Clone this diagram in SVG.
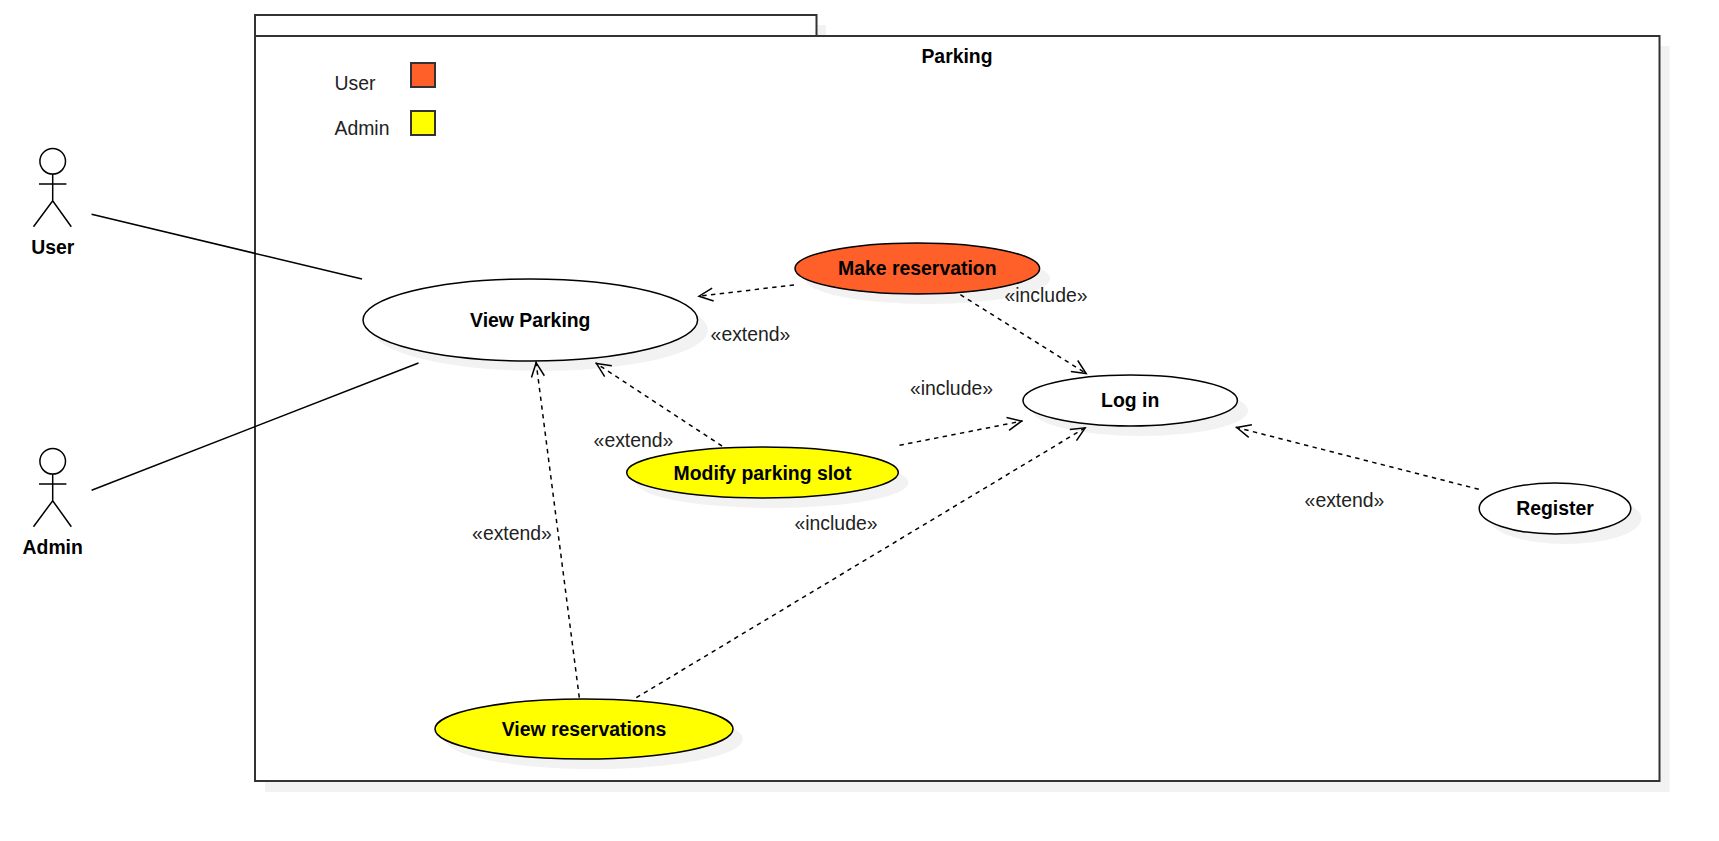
<svg xmlns="http://www.w3.org/2000/svg" width="1719" height="841" viewBox="0 0 1719 841">
<style>
text{font-family:"Liberation Sans",Arial,sans-serif;font-size:19.4px;fill:#000}
.b{font-weight:bold;text-anchor:middle}
.l{text-anchor:middle;fill:#222}
.s{text-anchor:start}
.pk{fill:#fff;stroke:#333;stroke-width:2}
.sh{fill:#f2f2f2;stroke:none}
.uc{stroke:#000;stroke-width:1.5}
.sw{stroke:#000;stroke-width:1.5;fill:none}
.lg{stroke:#333;stroke-width:2}
.a{stroke:#000;stroke-width:1.5;fill:none}
.d{stroke:#000;stroke-width:1.5;fill:none;stroke-dasharray:4.4 4.4;marker-end:url(#o)}
</style>
<defs><marker id="o" markerUnits="userSpaceOnUse" markerWidth="20" markerHeight="16" viewBox="-18 -8 20 16" refX="0" refY="0" orient="auto"><path d="M-15,-6.5 L-1,0 L-15,6.5" fill="none" stroke="#000" stroke-width="1.5"/></marker></defs>
<rect width="1719" height="841" fill="#fff"/>
<g id="package">
<rect class="sh" x="265" y="25" width="561" height="30"/>
<rect class="sh" x="265" y="46" width="1404.500" height="746"/>
<rect class="pk" x="255" y="15" width="561.500" height="21"/>
<rect class="pk" x="255" y="36" width="1404.500" height="745"/>
<text class="b" x="957" y="63">Parking</text>
</g>
<g id="legend">
<text class="l s" x="334.500" y="90">User</text>
<rect class="lg" x="411" y="63" width="24" height="24" fill="#ff5f29"/>
<text class="l s" x="334.500" y="134.500">Admin</text>
<rect class="lg" x="411" y="111" width="24" height="24" fill="#ffff00"/>
</g>
<g id="actor-user">
<circle class="sw" cx="52.700" cy="161.300" r="12.800"/>
<path class="a" d="M52.700 174V200.700M39 184H66.400M33.500 226.700L52.700 200.700L71.300 226.700"/>
<text class="b" x="52.700" y="254">User</text>
</g>
<g id="actor-admin">
<circle class="sw" cx="52.700" cy="461.300" r="12.800"/>
<path class="a" d="M52.700 474V500.700M39 484H66.400M33.500 526.700L52.700 500.700L71.300 526.700"/>
<text class="b" x="52.700" y="554">Admin</text>
</g>
<g id="view-parking">
<ellipse class="sh" cx="540.500" cy="330" rx="167.500" ry="41"/>
<ellipse class="uc" cx="530.300" cy="320" rx="167.300" ry="41" fill="#fff"/>
<text class="b" x="530.300" y="327">View Parking</text>
</g>
<g id="make-reservation">
<ellipse class="sh" cx="927.500" cy="278.500" rx="122.500" ry="25.500"/>
<ellipse class="uc" cx="917.300" cy="268.500" rx="122.300" ry="25.500" fill="#ff5f29"/>
<text class="b" x="917.300" y="274.800">Make reservation</text>
</g>
<g id="log-in">
<ellipse class="sh" cx="1140.500" cy="410.500" rx="107.500" ry="25.500"/>
<ellipse class="uc" cx="1130.200" cy="400.500" rx="107.200" ry="25.500" fill="#fff"/>
<text class="b" x="1130.200" y="406.800">Log in</text>
</g>
<g id="modify-parking-slot">
<ellipse class="sh" cx="772.500" cy="482.500" rx="136" ry="25.500"/>
<ellipse class="uc" cx="762.500" cy="472.500" rx="135.800" ry="25.500" fill="#ffff00"/>
<text class="b" x="762.500" y="479.500">Modify parking slot</text>
</g>
<g id="view-reservations">
<ellipse class="sh" cx="594" cy="739" rx="149" ry="30"/>
<ellipse class="uc" cx="584" cy="729" rx="149" ry="30" fill="#ffff00"/>
<text class="b" x="584" y="736">View reservations</text>
</g>
<g id="register">
<ellipse class="sh" cx="1565.500" cy="518.500" rx="76" ry="25.500"/>
<ellipse class="uc" cx="1555" cy="508.500" rx="75.800" ry="25.500" fill="#fff"/>
<text class="b" x="1555" y="514.800">Register</text>
</g>
<g id="connectors">
<path class="a" d="M91.600 214.300L362 279"/>
<path class="a" d="M91.600 490.300L418.500 363"/>
<path class="d" d="M794 285L698 296.300"/>
<path class="d" d="M722 446L595.700 363"/>
<path class="d" d="M579.300 697.700L536 361.700"/>
<path class="d" d="M636.300 697.700L1086 427.300"/>
<path class="d" d="M960.400 294.700L1087 374"/>
<path class="d" d="M899.500 445.300L1022.500 421"/>
<path class="d" d="M1478.800 489.300L1235.800 427.300"/>
</g>
<g id="labels">
<text class="l" x="750.500" y="341">«extend»</text>
<text class="l" x="1046" y="302">«include»</text>
<text class="l" x="951.500" y="395">«include»</text>
<text class="l" x="633.500" y="446.800">«extend»</text>
<text class="l" x="512" y="539.800">«extend»</text>
<text class="l" x="836" y="530">«include»</text>
<text class="l" x="1344.500" y="506.800">«extend»</text>
</g>
</svg>
